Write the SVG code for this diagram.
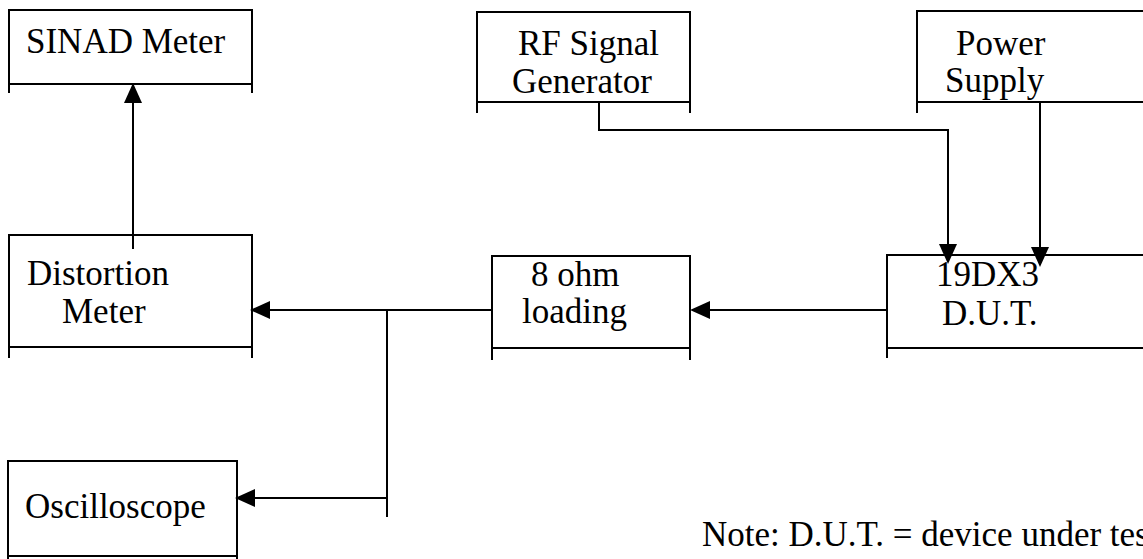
<svg xmlns="http://www.w3.org/2000/svg" width="1143" height="559" viewBox="0 0 1143 559">
  <style>
    .box { fill: none; stroke: #000; stroke-width: 2; }
    .lbl { font-family: "Liberation Serif", "Times New Roman", serif; font-size: 35px; fill: #000; }
    .wire { fill: none; stroke: #000; stroke-width: 2; }
  </style>
  <defs>
    <marker id="arr" viewBox="0 0 20 18" refX="18" refY="9" markerWidth="20" markerHeight="18" markerUnits="userSpaceOnUse" orient="auto">
      <path d="M0,0 L20,9 L0,18 z" fill="#000"/>
    </marker>
  </defs>
  <rect width="1143" height="559" fill="#fff"/>

  <g id="sinad">
    <path class="box" d="M9,93 V10 H252 V93 M9,84 H252"/>
    <text class="lbl" x="26" y="53">SINAD Meter</text>
  </g>
  <g id="rfgen">
    <path class="box" d="M477,113 V12 H690 V113 M477,102 H690"/>
    <text class="lbl" x="518" y="55">RF Signal</text>
    <text class="lbl" x="512" y="93">Generator</text>
  </g>
  <g id="power">
    <path class="box" d="M917,113 V11 H1150 M917,102 H1150"/>
    <text class="lbl" x="956" y="55">Power</text>
    <text class="lbl" x="945" y="92">Supply</text>
  </g>
  <g id="distortion">
    <path class="box" d="M9,358 V235 H252 V358 M9,347 H252"/>
    <text class="lbl" x="27" y="285">Distortion</text>
    <text class="lbl" x="62" y="323">Meter</text>
  </g>
  <g id="load">
    <path class="box" d="M492,360 V256 H690 V360 M492,348 H690"/>
    <text class="lbl" x="531" y="286">8 ohm</text>
    <text class="lbl" x="522" y="323">loading</text>
  </g>
  <g id="dut">
    <path class="box" d="M887,358 V255 H1150 M887,348 H1150"/>
    <text class="lbl" x="936" y="286">19DX3</text>
    <text class="lbl" x="942" y="325">D.U.T.</text>
  </g>
  <g id="scope">
    <path class="box" d="M8,565 V461 H237 V565 M8,556 H237"/>
    <text class="lbl" x="25" y="518">Oscilloscope</text>
  </g>

  <g id="connectors">
    <path class="wire" d="M133,249 V85" marker-end="url(#arr)"/>
    <path class="wire" d="M492,310 H252" marker-end="url(#arr)"/>
    <path class="wire" d="M387,310 V517"/>
    <path class="wire" d="M387,498 H237" marker-end="url(#arr)"/>
    <path class="wire" d="M887,310 H692" marker-end="url(#arr)"/>
    <path class="wire" d="M599,102 V130 H948 V262" marker-end="url(#arr)"/>
    <path class="wire" d="M1040,102 V265" marker-end="url(#arr)"/>
  </g>

  <text class="lbl" x="702" y="546">Note: D.U.T. = device under test</text>
</svg>
